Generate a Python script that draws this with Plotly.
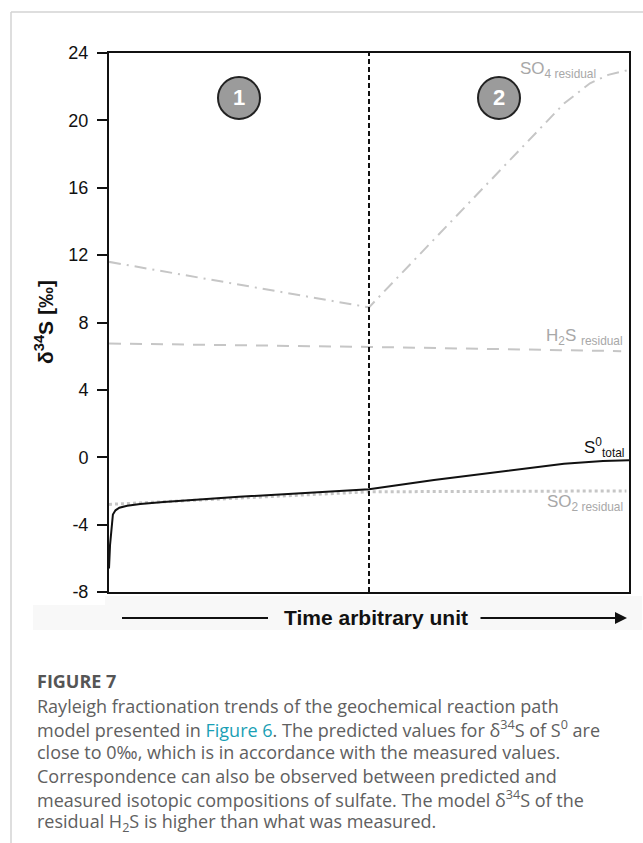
import plotly.graph_objects as go

# ---- data ----
s0_x = [0.0, 0.004, 0.015, 0.025, 0.04, 0.07, 0.12, 0.21, 0.5, 0.93, 1.0, 1.25, 1.5, 1.75, 1.9, 2.0]
s0_y = [-6.6, -5.2, -3.4, -3.15, -3.0, -2.88, -2.78, -2.65, -2.35, -2.0, -1.9, -1.35, -0.85, -0.38, -0.22, -0.18]

so2_x = [0.0, 1.0, 1.99]
so2_y = [-2.8, -2.05, -2.0]

h2s_x = [0.0, 1.0, 1.97]
h2s_y = [6.75, 6.55, 6.3]

so4_x = [0.0, 1.0, 1.75, 1.85, 1.92, 2.0]
so4_y = [11.6, 8.9, 21.0, 22.2, 22.7, 23.0]

y_ticks = [-8, -4, 0, 4, 8, 12, 16, 20, 24]
y_tick_text = ["-8", "-4", "0", "4", "8", "12", "16", "20", "24"]
phase_labels = ["1", "2"]
phase_x = [0.5, 1.5]
phase_y = [21.33, 21.33]
divider_x = 1.0

caption_title = "FIGURE 7"
caption_lines = [
    "Rayleigh fractionation trends of the geochemical reaction path",
    "model presented in <span style='color:#1a9fb5'>Figure 6</span>. The predicted values for δ<sup>34</sup>S of S<sup>0</sup> are",
    "close to 0‰, which is in accordance with the measured values.",
    "Correspondence can also be observed between predicted and",
    "measured isotopic compositions of sulfate. The model δ<sup>34</sup>S of the",
    "residual H<sub>2</sub>S is higher than what was measured.",
]

W, H = 643, 843
L, R, T, B = 109, 629, 53, 592


def px(xp):
    return (xp - L) / (R - L)


def py(yp):
    return (B - yp) / (B - T)


GRAY = "#c6c6c6"
LBL = "#a8a8a8"
FONT = "Liberation Sans, Arial, sans-serif"

fig = go.Figure()
fig.add_trace(go.Scatter(x=so4_x, y=so4_y, mode="lines",
                         line=dict(color=GRAY, width=2, dash="12px,6px,2px,6px"), hoverinfo="skip"))
fig.add_trace(go.Scatter(x=h2s_x, y=h2s_y, mode="lines",
                         line=dict(color=GRAY, width=2, dash="12px,9px"), hoverinfo="skip"))
fig.add_trace(go.Scatter(x=so2_x, y=so2_y, mode="lines",
                         line=dict(color=GRAY, width=3, dash="dot"), hoverinfo="skip"))
fig.add_trace(go.Scatter(x=s0_x, y=s0_y, mode="lines",
                         line=dict(color="#111111", width=2), hoverinfo="skip"))

shapes = []
shapes.append(dict(type="line", x0=divider_x, x1=divider_x, y0=-8, y1=24, xref="x", yref="y",
                   line=dict(color="#111111", width=2, dash="5px,3px")))
for cx, cy in zip(phase_x, phase_y):
    shapes.append(dict(type="circle", xref="x", yref="y", xsizemode="pixel", ysizemode="pixel",
                       xanchor=cx, yanchor=cy, x0=-21, x1=21, y0=-21, y1=21,
                       fillcolor="#9b9b9b", line=dict(color="#222222", width=2)))
shapes.append(dict(type="rect", xref="paper", yref="paper", x0=px(33), x1=px(642), y0=py(630), y1=py(605),
                   fillcolor="#f8f8f8", line=dict(width=0), layer="below"))
shapes.append(dict(type="rect", xref="paper", yref="paper", x0=px(105), x1=px(642), y0=py(605), y1=py(596),
                   fillcolor="#f8f8f8", line=dict(width=0), layer="below"))
shapes.append(dict(type="line", xref="paper", yref="paper", x0=px(122), x1=px(268), y0=py(618), y1=py(618),
                   line=dict(color="#111111", width=2)))
shapes.append(dict(type="line", xref="paper", yref="paper", x0=px(11), x1=px(11), y0=py(12), y1=py(843),
                   line=dict(color="#d3d3d3", width=1.5)))
shapes.append(dict(type="line", xref="paper", yref="paper", x0=px(11), x1=px(643), y0=py(12), y1=py(12),
                   line=dict(color="#d3d3d3", width=1.5)))

ann = []
for lab, cx, cy in zip(phase_labels, phase_x, phase_y):
    ann.append(dict(x=cx, y=cy, xref="x", yref="y", text="<b>" + lab + "</b>", showarrow=False,
                    font=dict(family=FONT, size=22, color="white")))
ann.append(dict(x=px(518), y=py(70), xref="paper", yref="paper", xanchor="left", yanchor="middle",
                text="SO<sub>4 residual</sub>", showarrow=False, font=dict(family=FONT, size=17, color=LBL)))
ann.append(dict(x=px(625), y=py(337), xref="paper", yref="paper", xanchor="right", yanchor="middle",
                text="H<sub>2</sub>S <sub>residual</sub>", showarrow=False, font=dict(family=FONT, size=17, color=LBL)))
ann.append(dict(x=px(626), y=py(447), xref="paper", yref="paper", xanchor="right", yanchor="middle",
                text="S<sup>0</sup><sub>total</sub>", showarrow=False, font=dict(family=FONT, size=17, color="#111111")))
ann.append(dict(x=px(625), y=py(503), xref="paper", yref="paper", xanchor="right", yanchor="middle",
                text="SO<sub>2 residual</sub>", showarrow=False, font=dict(family=FONT, size=17, color=LBL)))
ann.append(dict(x=px(44), y=py(322), xref="paper", yref="paper", xanchor="center", yanchor="middle",
                text="<b>δ<sup>34</sup>S [‰]</b>", textangle=-90, showarrow=False,
                font=dict(family=FONT, size=21, color="#111111")))
ann.append(dict(x=px(376), y=py(617), xref="paper", yref="paper", xanchor="center", yanchor="middle",
                text="<b>Time arbitrary unit</b>", showarrow=False, font=dict(family=FONT, size=21, color="#111111")))
ann.append(dict(x=px(627), y=py(618), xref="paper", yref="paper", ax=-(627 - 479), ay=0, axref="pixel", ayref="pixel",
                text="", showarrow=True, arrowhead=2, arrowsize=1.2, arrowwidth=2, arrowcolor="#111111"))
ann.append(dict(x=px(35), y=py(681), xref="paper", yref="paper", xanchor="left", yanchor="middle",
                text="<b>" + caption_title + "</b>", showarrow=False,
                font=dict(family="Open Sans", size=18, color="#555555")))
cap_y = [706, 729, 752, 776, 799, 822]
for line, yy in zip(caption_lines, cap_y):
    ann.append(dict(x=px(35), y=py(yy), xref="paper", yref="paper", xanchor="left", yanchor="middle",
                    text=line, showarrow=False, font=dict(family="Open Sans", size=18, color="#606060")))

fig.update_layout(
    width=W, height=H,
    margin=dict(l=L, r=W - R, t=T, b=H - B),
    paper_bgcolor="white", plot_bgcolor="white",
    showlegend=False,
    shapes=shapes, annotations=ann,
    xaxis=dict(range=[0, 2], showgrid=False, zeroline=False, showticklabels=False, ticks="",
               showline=True, linecolor="#111111", linewidth=2, mirror=True),
    yaxis=dict(range=[-8, 24], tickvals=y_ticks, ticktext=y_tick_text, showgrid=False, zeroline=False,
               ticks="outside", ticklen=10, tickwidth=2, tickcolor="#111111", ticklabelstandoff=5,
               showline=True, linecolor="#111111", linewidth=2, mirror=True,
               tickfont=dict(family=FONT, size=18, color="#111111")),
)

fig.write_html("out.html")
